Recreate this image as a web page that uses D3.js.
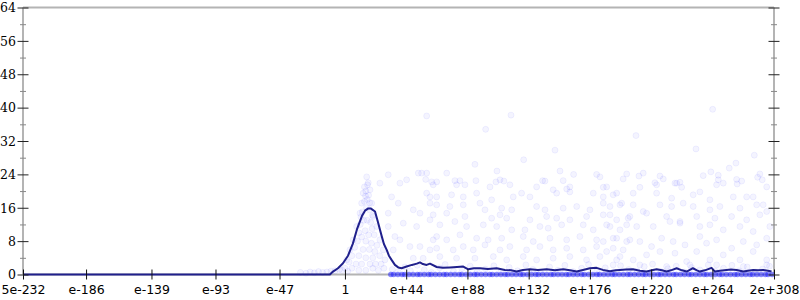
<!DOCTYPE html>
<html>
<head>
<meta charset="utf-8">
<script src="https://cdn.jsdelivr.net/npm/d3@7"></script>
<style>
  body { margin: 0; background: #fff; }
  .frame { stroke: #b4b4b4; stroke-width: 2; fill: none; }
  .dot { fill: #00f; fill-opacity: .045; stroke: #00f; stroke-opacity: .055; stroke-width: 1; }
  .zero { fill: #1a1aff; fill-opacity: .5; stroke: none; }
  .avg { fill: none; stroke: #20208c; stroke-width: 2; stroke-linejoin: round; }
  .axis text { font-family: "DejaVu Sans", sans-serif; font-size: 12.5px; fill: #000; }
  .axis.y text { font-family: "DejaVu Serif", serif; }
</style>
</head>
<body>
<svg id="chart" width="800" height="300"></svg>
<script>
// x ticks (values on a log axis) and their printed labels
const xTicks = [5e-232, 1e-186, 1e-139, 1e-93, 1e-47, 1, 1e44, 1e88, 1e132, 1e176, 1e220, 1e264, Number.MAX_VALUE];
const xTickLabels = ["5e-232", "e-186", "e-139", "e-93", "e-47", "1", "e+44", "e+88", "e+132", "e+176", "e+220", "e+264", "2e+308"];
const yMajor = [0, 8, 16, 24, 32, 40, 48, 56, 64];
const yMinor = [4, 12, 20, 28, 36, 44, 52, 60];

// running average line: [decimal exponent, value]
const averageLine = [
  [-231.3, 0], [-10.8, 0], [-8.6, 0.7], [-5.0, 1.5], [-1.4, 2.7], [2.2, 4.5], [5.7, 7.4], [8.6, 10.8],
  [12.2, 14.0], [14.4, 15.3], [16.5, 15.8], [18.7, 15.8], [21.6, 15.1], [23.7, 12.6], [26.4, 9.2], [28.0, 7.3],
  [30.0, 5.9], [31.6, 4.5], [33.5, 3.5], [35.9, 2.3], [38.3, 1.7], [40.7, 1.5], [44.3, 1.9], [48.1, 2.3],
  [51.7, 2.6], [53.9, 2.9], [56.0, 2.5], [58.7, 2.3], [61.1, 2.6], [65.9, 1.8], [70.4, 1.6], [75.4, 1.7],
  [80.5, 1.8], [85.0, 1.9], [88.6, 1.25], [92.7, 1.5], [97.0, 1.5], [102.7, 1.3], [109.0, 1.5], [114.9, 1.1],
  [119.3, 1.0], [123.3, 0.7], [127.9, 1.1], [132.9, 1.25], [138.6, 1.1], [144.9, 1.25], [150.9, 1.0], [156.8, 1.25],
  [161.6, 1.0], [166.5, 0.7], [171.0, 1.1], [176.0, 1.5], [180.8, 1.6], [185.3, 1.1], [190.4, 0.8], [194.7, 1.0],
  [197.6, 1.1], [201.9, 1.2], [206.9, 1.25], [211.9, 0.9], [216.7, 0.7], [220.5, 1.0], [223.9, 1.25], [227.7, 1.0],
  [231.1, 0.7], [234.2, 1.0], [238.3, 1.5], [242.1, 1.0], [245.5, 0.7], [247.8, 1.1], [250.0, 1.5], [252.9, 1.0],
  [255.0, 0.7], [258.6, 1.0], [263.4, 1.6], [265.8, 0.7], [269.4, 0.9], [274.2, 1.1], [277.3, 1.2], [281.4, 1.1],
  [286.2, 0.7], [289.5, 0.9], [293.3, 1.1], [296.7, 1.0], [300.5, 1.1], [303.9, 0.9], [306.5, 0.7]
];

// individual samples around the peak: [exponent, value]
const peakSamples = [
  [15.6, 23.4], [16.7, 22.0], [13.1, 19.5], [18.0, 20.3], [12.0, 17.1], [19.2, 17.1], [10.8, 14.7], [20.3, 13.9],
  [8.4, 11.5], [22.8, 11.5], [6.0, 8.3], [25.1, 8.3], [3.6, 5.9], [27.5, 5.9], [1.2, 3.5], [28.7, 3.5],
  [14, 21], [15, 20], [17, 19], [16, 18], [14, 17.5], [15.5, 16], [17.5, 15.5], [12.5, 15], [13.5, 13], [16, 13],
  [18.5, 12.5], [11, 12], [19.5, 11], [14.5, 10.5], [10, 10], [12, 9], [17, 9.5], [21, 9.5], [9, 8], [15, 8],
  [19, 7.5], [23, 7], [7, 6.5], [13, 6], [17.5, 6], [21.5, 5.5], [5, 4.5], [10, 4.5], [15, 4], [20, 4], [25, 4.5],
  [3, 3], [8, 2.5], [12, 2.5], [18, 2.5], [22, 2.5], [26, 2.5], [0, 1.5], [5, 1.5], [10, 1], [15, 1], [20, 1.5],
  [24, 1], [28, 1.5], [-2, 1], [2, 0.8], [16.2, 21.5], [14.8, 18.8], [17.8, 17.2], [11.5, 13.8], [19.8, 14.2],
  [-32, 0.5], [-28, 0.3], [-25, 0.6], [-22, 0.4], [-19, 0.7], [-16, 0.5], [-13, 0.6], [-10, 0.8], [-7, 0.9], [-4, 1.2]
];

// scattered samples over the rest of the range: [exponent, value]
const tailSamples = [
  [58.7, 38.0], [119.3, 38.2], [101.1, 34.8], [150.9, 29.8], [128.4, 27.5], [93.4, 26.4], [109.2, 24.8], [154.5, 24.8],
  [164.3, 24.0], [73.1, 24.3], [58.7, 24.3], [55.1, 24.3], [180.8, 24.0], [264.2, 39.6], [209.1, 33.3], [252.2, 30.1],
  [294.1, 28.6], [280.9, 26.7], [276.1, 25.5], [262.9, 24.6], [202.4, 24.1], [214.3, 24.3], [211.2, 23.6], [298.1, 24.1],
  [296.5, 23.3], [268.2, 23.8], [199.9, 22.9], [226.3, 23.6], [228.7, 22.9], [237.1, 21.9], [240.7, 22.1], [241.9, 20.9],
  [222.7, 22.0], [257.4, 23.7], [281.4, 22.8], [285.0, 22.4], [299.8, 22.7], [268.2, 22.7], [271.8, 21.9], [185.6, 20.9],
  [211.9, 20.9], [281.8, 21.7], [58.0, 22.8], [65.9, 22.2], [79.0, 22.5], [82.6, 22.5], [94.1, 22.5], [108.5, 22.2],
  [114.2, 22.4], [118.5, 21.5], [104.2, 21.0], [142.0, 22.5], [143.7, 22.4], [156.8, 22.5], [137.7, 21.0], [161.6, 21.0],
  [159.3, 20.5], [80.2, 21.5], [86.2, 21.5], [63.4, 21.5], [111.4, 22.7], [149.6, 20.3], [161.6, 19.8], [183.2, 23.4],
  [65.9, 18.6], [61.1, 18.6], [76.6, 19.1], [85.0, 18.6], [94.6, 19.5], [105.4, 17.9], [120.9, 18.6], [126.9, 19.5],
  [132.9, 18.6], [152.1, 19.5], [178.4, 19.5], [185.6, 18.6], [195.2, 19.5],
  [65.9, 16.7], [75.4, 16.3], [85.0, 16.7], [97.0, 17.1], [100.6, 15.5], [112.6, 15.9], [119.8, 15.5], [137.7, 16.3],
  [143.7, 15.5], [156.8, 15.9], [166.5, 16.3], [176.0, 15.5], [190.4, 16.3], [198.8, 17.1],
  [63.4, 14.3], [73.1, 14.7], [86.2, 13.9], [105.4, 13.5], [111.4, 14.3], [116.2, 13.5], [132.9, 13.1], [144.9, 13.9],
  [152.1, 13.5], [161.6, 13.1], [173.6, 13.9], [185.6, 14.3], [195.2, 13.1], [203.5, 13.5],
  [68.2, 11.9], [79.0, 12.7], [87.4, 11.5], [99.4, 11.9], [109.0, 11.5], [119.8, 10.7], [129.3, 10.7], [140.1, 11.5],
  [146.0, 11.1], [155.7, 11.9], [171.2, 11.9], [178.4, 10.7], [190.4, 11.5], [202.4, 11.9],
  [65.9, 9.1], [73.1, 8.3], [82.6, 9.5], [94.6, 8.7], [102.9, 8.3], [112.6, 8.7], [128.1, 9.1], [135.3, 7.9],
  [147.3, 8.7], [159.3, 8.3], [168.8, 9.1], [180.8, 8.3], [192.7, 8.7], [202.4, 7.9],
  [65.9, 6.3], [77.8, 5.9], [85.0, 6.7], [92.2, 5.9], [100.6, 7.1], [111.4, 5.9], [118.5, 6.7], [130.5, 5.9],
  [140.1, 6.7], [149.6, 5.9], [159.3, 6.3], [171.2, 5.9], [180.8, 6.7], [192.7, 6.3], [199.9, 5.9],
  [68.2, 4.3], [80.2, 3.9], [93.4, 3.9], [106.6, 4.3], [116.2, 3.5], [128.1, 4.3], [137.7, 3.5], [149.6, 3.9],
  [161.6, 4.3], [173.6, 3.5], [183.2, 4.3], [195.2, 3.5],
  [188.0, 21.0], [223.9, 21.5], [238.3, 21.9], [255.0, 19.8], [267.0, 21.5], [293.3, 18.6], [303.0, 21.0],
  [192.7, 19.1], [207.1, 19.5], [223.9, 19.5], [234.7, 18.3], [250.2, 19.1], [262.2, 17.9], [279.0, 18.6], [288.6, 18.6],
  [300.5, 16.7], [185.6, 17.1], [197.6, 16.7], [207.1, 16.7], [214.3, 15.1], [226.3, 16.7], [234.7, 16.3], [243.0, 17.1],
  [250.2, 16.3], [262.2, 15.5], [269.4, 16.3], [283.8, 15.9], [295.8, 16.7], [303.0, 15.1],
  [190.4, 14.3], [204.7, 13.9], [216.7, 14.7], [231.1, 13.9], [240.7, 12.7], [252.7, 13.9], [265.8, 13.5], [277.8, 13.9],
  [288.6, 13.1], [298.1, 14.3], [188.0, 11.9], [197.6, 10.7], [209.6, 11.5], [221.5, 11.5], [233.5, 12.7], [240.7, 12.3],
  [255.0, 11.5], [262.2, 11.9], [271.8, 10.7], [283.8, 11.5], [293.3, 10.3], [305.3, 11.5],
  [185.6, 7.9], [195.2, 8.7], [204.7, 8.3], [211.9, 7.9], [220.3, 6.7], [227.5, 8.7], [235.8, 7.9], [244.3, 7.1],
  [255.0, 9.1], [259.8, 7.5], [267.0, 8.3], [277.8, 6.3], [286.2, 7.9], [295.8, 7.1], [303.0, 8.7],
  [188.0, 5.5], [197.6, 4.3], [207.1, 3.5], [216.7, 4.7], [226.3, 5.5], [237.1, 5.1], [245.5, 3.1], [252.7, 5.5],
  [262.2, 3.5], [271.8, 4.7], [283.8, 3.5], [293.3, 5.5], [303.0, 3.5],
  [192.7, 2.3], [211.9, 2.3], [231.1, 1.9], [247.8, 2.3], [267.0, 2.3], [286.2, 1.9], [303.0, 2.3],
  [31.1, 23.9], [39.5, 21.9], [44.3, 22.7], [52.7, 24.3], [62.3, 22.2], [25.1, 21.9], [33.5, 18.6], [38.3, 17.1],
  [49.1, 15.5], [53.9, 14.7], [58.7, 19.5], [61.1, 17.1], [31.1, 14.7], [41.9, 12.3], [51.5, 11.5], [61.1, 13.1],
  [31.1, 11.5], [39.5, 8.3], [46.7, 6.7], [53.9, 6.7], [61.1, 5.9], [34.7, 5.9], [49.1, 3.9], [56.2, 3.9],
  [35.9, 9.1], [63.4, 8.3],
  [34, 1.2], [38, 0.6], [43, 1.8], [47, 0.9], [52, 2.2], [57, 1.1], [62, 0.5], [68, 1.6], [72, 2.4], [78, 0.8],
  [84, 1.4], [90, 2.0], [95, 0.7], [101, 1.3], [107, 2.1], [112, 0.6], [118, 1.7], [124, 0.9], [130, 2.3], [135, 1.2],
  [141, 0.5], [147, 1.8], [153, 1.0], [158, 2.2], [164, 0.7], [170, 1.5], [175, 2.4], [181, 0.9], [187, 1.6], [193, 0.6],
  [198, 2.1], [204, 1.2], [210, 0.8], [215, 1.9], [221, 2.5], [227, 0.7], [232, 1.4], [238, 2.0], [244, 0.6], [249, 1.7],
  [255, 1.1], [261, 2.3], [266, 0.8], [272, 1.5], [278, 2.2], [283, 0.9], [289, 1.8], [295, 0.6], [300, 1.3], [305, 2.0]
];

// exponents of samples that came out exactly 0 (dense band on the axis)
const zeroSamples = [
  33, 35, 38, 41, 43, 46, 49, 52, 54, 57, 60, 62, 65, 68, 71, 73, 76, 79, 82, 84, 87, 90, 93, 95, 98, 101, 104,
  106, 109, 112, 115, 117, 120, 123, 126, 128, 131, 134, 137, 139, 142, 145, 148, 150, 153, 156, 159, 161, 164,
  167, 170, 172, 175, 178, 181, 183, 186, 189, 192, 194, 197, 200, 203, 205, 208, 211, 214, 216, 219, 222, 225,
  227, 230, 233, 236, 238, 241, 244, 247, 249, 252, 255, 258, 260, 263, 266, 269, 271, 274, 277, 280, 282, 285,
  288, 291, 293, 296, 299, 302, 304, 307
];

const svg = d3.select("#chart");
const plotLeft = 23, plotRight = 774, plotTop = 7.5, plotBottom = 274.5;

const x = d3.scaleLog().domain([5e-232, Number.MAX_VALUE]).range([plotLeft, plotRight]);
const y = d3.scaleLinear().domain([0, 64]).range([plotBottom, plotTop]);
const xe = e => x(Math.pow(10, e));

// gray frame (below the data)
const frame = svg.append("g");
[[plotLeft, plotTop, plotRight, plotTop], [plotLeft, plotTop, plotLeft, plotBottom],
 [plotRight, plotTop, plotRight, plotBottom], [plotLeft, plotBottom, plotRight, plotBottom]]
  .forEach(([x1, y1, x2, y2]) => frame.append("line").attr("class", "frame")
    .attr("x1", x1).attr("y1", y1).attr("x2", x2).attr("y2", y2));

// samples
svg.append("g").selectAll("circle")
  .data(peakSamples.concat(tailSamples))
  .join("circle").attr("class", "dot")
  .attr("cx", d => xe(d[0])).attr("cy", d => y(d[1])).attr("r", 3);

svg.append("g").selectAll("circle")
  .data(zeroSamples)
  .join("circle").attr("class", "zero")
  .attr("cx", d => xe(d)).attr("cy", y(0)).attr("r", 2.8);

// running average
svg.append("path").attr("class", "avg")
  .attr("d", d3.line().x(d => xe(d[0])).y(d => y(d[1]))(averageLine));

// axes (ticks cross the frame)
const xAxis = svg.append("g").attr("class", "axis x")
  .attr("transform", `translate(0,${plotBottom})`)
  .call(d3.axisBottom(x).tickValues(xTicks).tickFormat((d, i) => xTickLabels[i]).tickSizeOuter(0));
xAxis.select(".domain").remove();
xAxis.selectAll(".tick line").attr("y1", -5).attr("y2", 5).attr("stroke", "#111");
xAxis.selectAll(".tick text").attr("y", 19.5).attr("dy", 0);

function yAxis(axisGen, side, labels) {
  const g = svg.append("g").attr("class", "axis y")
    .attr("transform", `translate(${side},0)`)
    .call(axisGen(y).tickValues(yMajor.concat(yMinor))
      .tickFormat(d => labels && yMajor.includes(d) ? d : "").tickSizeOuter(0));
  g.select(".domain").remove();
  g.selectAll(".tick line")
    .attr("x1", d => yMajor.includes(d) ? -5.5 : -3)
    .attr("x2", d => yMajor.includes(d) ? 5.5 : 3)
    .attr("stroke", d => yMajor.includes(d) ? "#222" : "#888");
  g.selectAll(".tick text").attr("x", -7).attr("dy", "0.34em");
  return g;
}
yAxis(d3.axisLeft, plotLeft, true);
yAxis(d3.axisRight, plotRight, false);
</script>
</body>
</html>
